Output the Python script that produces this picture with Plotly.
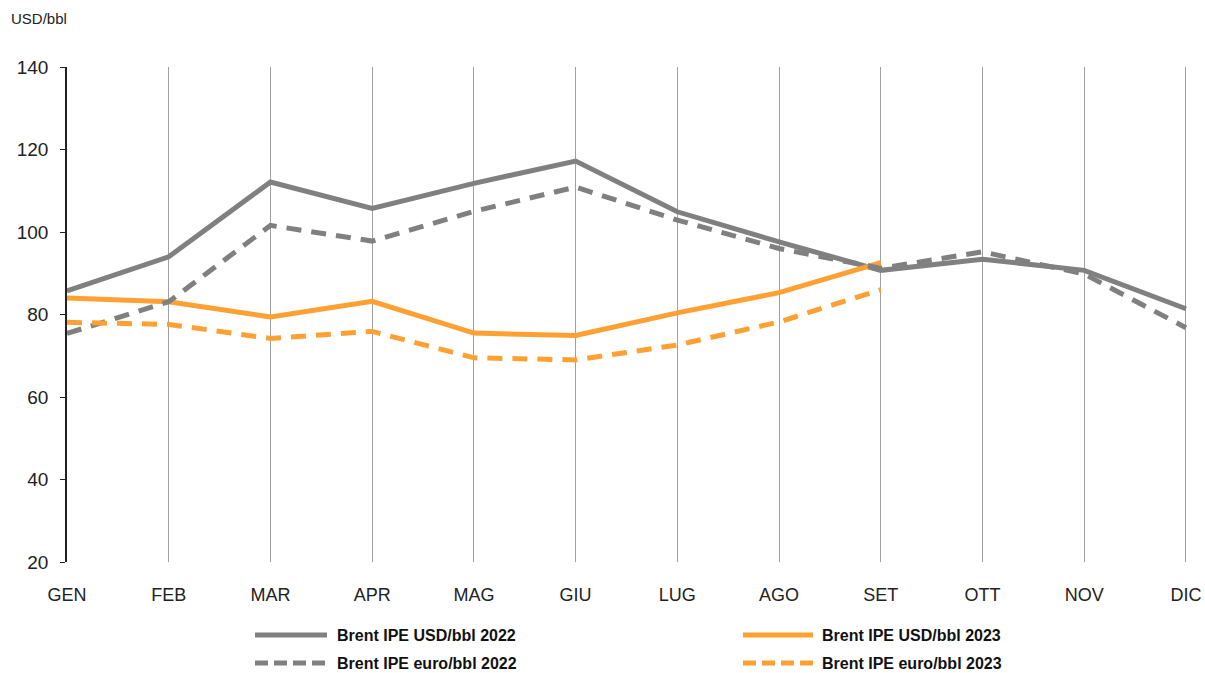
import plotly.graph_objects as go

months = ["GEN", "FEB", "MAR", "APR", "MAG", "GIU", "LUG", "AGO", "SET", "OTT", "NOV", "DIC"]

usd_2022 = [85.7, 94.0, 112.1, 105.7, 111.8, 117.2, 104.9, 97.6, 90.7, 93.4, 90.7, 81.4]
eur_2022 = [75.4, 83.1, 101.6, 97.8, 105.0, 110.9, 102.9, 96.0, 91.2, 95.2, 89.8, 76.8]
usd_2023 = [84.0, 83.1, 79.4, 83.2, 75.5, 74.9, 80.4, 85.3, 92.6]
eur_2023 = [78.1, 77.6, 74.2, 75.9, 69.5, 69.0, 72.6, 78.2, 86.0]

names = ["Brent IPE USD/bbl 2022", "Brent IPE USD/bbl 2023",
         "Brent IPE euro/bbl 2022", "Brent IPE euro/bbl 2023"]

GRAY = "#808080"
ORANGE = "#FFA033"
DASH = "15px,10px"

series = [
    (usd_2022, GRAY, "solid"),
    (usd_2023, ORANGE, "solid"),
    (eur_2022, GRAY, DASH),
    (eur_2023, ORANGE, DASH),
]

fig = go.Figure()
for name, (vals, col, dash) in zip(names, series):
    fig.add_trace(go.Scatter(x=months[:len(vals)], y=vals, mode="lines", name=name,
                             showlegend=False, line=dict(color=col, width=5, dash=dash)))

# plot-area geometry in pixels (for placing the custom legend)
L, R, T, B = 67, 1188, 67, 562
W, H = R - L, B - T
def px_x(p):
    return (p - L) / W
def px_y(p):
    return (B - p) / H

# custom legend: 2 columns x 2 rows
legend_pos = [(255, 327, 335, 635), (743, 813, 820, 635),
              (255, 327, 335, 663), (743, 813, 820, 663)]
shapes = []
annotations = []
for name, (vals, col, dash), (sx0, sx1, tx, py) in zip(names, series, legend_pos):
    shapes.append(dict(type="line", xref="paper", yref="paper",
                       x0=px_x(sx0), x1=px_x(sx1), y0=px_y(py), y1=px_y(py),
                       line=dict(color=col, width=5,
                                 dash="solid" if dash == "solid" else "13px,6px")))
    annotations.append(dict(text=name, xref="paper", yref="paper", x=px_x(tx), y=px_y(py),
                            xanchor="left", yanchor="middle", showarrow=False,
                            font=dict(size=16, color="#111111", weight="bold",
                                      family="Liberation Sans, Arial, sans-serif")))

annotations.append(dict(text="USD/bbl", xref="paper", yref="paper", x=px_x(9), y=px_y(18),
                        xanchor="left", yanchor="middle", showarrow=False,
                        font=dict(size=15, color="#222222")))

fig.update_layout(
    width=1205, height=673,
    margin=dict(l=L, r=1205 - R, t=T, b=673 - B, autoexpand=False),
    paper_bgcolor="white", plot_bgcolor="white",
    font=dict(family="Liberation Sans, Arial, sans-serif", color="#222222"),
    showlegend=False,
    xaxis=dict(type="category", range=[0, 11.02], showgrid=True, gridcolor="#A0A0A0", gridwidth=1,
               showline=False, zeroline=False, ticks="", ticklabelstandoff=20,
               tickfont=dict(size=18, color="#222222")),
    yaxis=dict(range=[20, 140], dtick=20, showgrid=False, zeroline=False,
               showline=True, linecolor="#222222", linewidth=1.5,
               ticks="outside", ticklen=5, tickcolor="#222222", ticklabelstandoff=8,
               tickfont=dict(size=19, color="#222222")),
    shapes=shapes,
    annotations=annotations,
)

fig.write_html("out.html")
